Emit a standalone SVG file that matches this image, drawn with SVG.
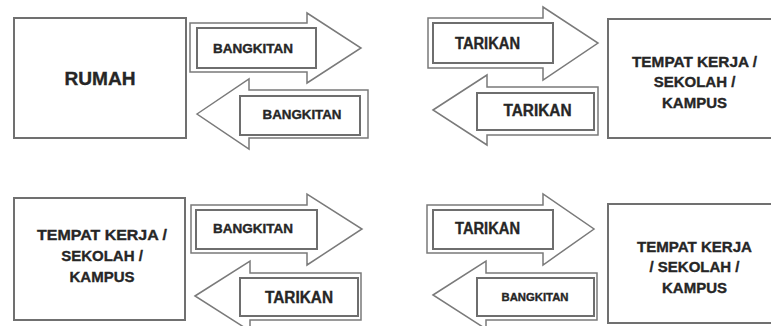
<svg xmlns="http://www.w3.org/2000/svg" width="771" height="326" viewBox="0 0 771 326">
<style>
.box{fill:#fff;stroke:#707070;stroke-width:2}
.arr{fill:#fff;stroke:#7a7a7a;stroke-width:1.5;stroke-linejoin:miter}
.inner{fill:none;stroke:#6e6e6e;stroke-width:2}
text{font-family:"Liberation Sans",Arial,sans-serif;font-weight:bold;fill:#262626;stroke:#262626;stroke-width:0.35;text-anchor:middle}
.b{font-size:12.5px}
.t{font-size:16px}
.n{font-size:15px}
</style>
<rect width="771" height="326" fill="#fff"/>
<g id="node-rumah">
<rect class="box" x="14" y="18" width="172" height="120"/>
<text x="100" y="85.4" font-size="18" textLength="71" lengthAdjust="spacingAndGlyphs">RUMAH</text>
</g>
<g id="node-tempat1">
<rect class="box" x="608" y="19" width="170" height="119"/>
<text class="n" x="694.5" y="67.4" textLength="125" lengthAdjust="spacingAndGlyphs">TEMPAT KERJA /</text>
<text class="n" x="694.5" y="87.4">SEKOLAH /</text>
<text class="n" x="694.5" y="108.4">KAMPUS</text>
</g>
<g id="node-tempat2">
<rect class="box" x="14" y="198" width="171" height="122"/>
<text class="n" x="102" y="240.4" textLength="130" lengthAdjust="spacingAndGlyphs">TEMPAT KERJA /</text>
<text class="n" x="102" y="261.4">SEKOLAH /</text>
<text class="n" x="102" y="282.4">KAMPUS</text>
</g>
<g id="node-tempat3">
<rect class="box" x="608" y="204" width="170" height="119"/>
<text class="n" x="694.5" y="252.4" textLength="115" lengthAdjust="spacingAndGlyphs">TEMPAT KERJA</text>
<text class="n" x="694.5" y="272.4">/ SEKOLAH /</text>
<text class="n" x="694.5" y="293.4">KAMPUS</text>
</g>
<g id="connectors">
<g id="arrow1">
<polygon class="arr" points="190,23 307,23 307,13 361,48 307,83 307,72 190,72"/>
<rect class="inner" x="197" y="28" width="119" height="40"/>
<text class="b" x="253" y="52.5" textLength="80" lengthAdjust="spacingAndGlyphs">BANGKITAN</text>
</g>
<g id="arrow2">
<polygon class="arr" points="197,114 249,79 249,90 368,90 368,138 249,138 249,149"/>
<rect class="inner" x="240" y="96" width="120" height="39"/>
<text class="b" x="302" y="118.5" textLength="79" lengthAdjust="spacingAndGlyphs">BANGKITAN</text>
</g>
<g id="arrow3">
<polygon class="arr" points="428,18 543,18 543,7 598,43 543,80 543,68 428,68"/>
<rect class="inner" x="433" y="23" width="120" height="40"/>
<text class="t" x="487.5" y="48.7" textLength="65" lengthAdjust="spacingAndGlyphs">TARIKAN</text>
</g>
<g id="arrow4">
<polygon class="arr" points="433,110 487,75 487,87 598,87 598,135 487,135 487,145"/>
<rect class="inner" x="477" y="93" width="117" height="37"/>
<text class="t" x="537.5" y="115.7" textLength="68" lengthAdjust="spacingAndGlyphs">TARIKAN</text>
</g>
<g id="arrow5">
<polygon class="arr" points="191,205 307,205 307,194 362,229 307,265 307,253 191,253"/>
<rect class="inner" x="196" y="210" width="121" height="39"/>
<text class="b" x="253" y="232.5" textLength="80" lengthAdjust="spacingAndGlyphs">BANGKITAN</text>
</g>
<g id="arrow6">
<polygon class="arr" points="195,296 250,261 250,273 361,273 361,320 250,320 250,331"/>
<rect class="inner" x="240" y="278" width="118" height="38"/>
<text class="t" x="299" y="302.7" textLength="68" lengthAdjust="spacingAndGlyphs">TARIKAN</text>
</g>
<g id="arrow7">
<polygon class="arr" points="427,205 543,205 543,194 594,229 543,265 543,253 427,253"/>
<rect class="inner" x="433" y="210" width="120" height="39"/>
<text class="t" x="487.5" y="233.7" textLength="65" lengthAdjust="spacingAndGlyphs">TARIKAN</text>
</g>
<g id="arrow8">
<polygon class="arr" points="433,295 486,261 486,273 597,273 597,320 486,320 486,329"/>
<rect class="inner" x="477" y="278" width="117" height="38"/>
<text x="535" y="300.8" font-size="10.5" textLength="67" lengthAdjust="spacingAndGlyphs">BANGKITAN</text>
</g>
</g>
</svg>
